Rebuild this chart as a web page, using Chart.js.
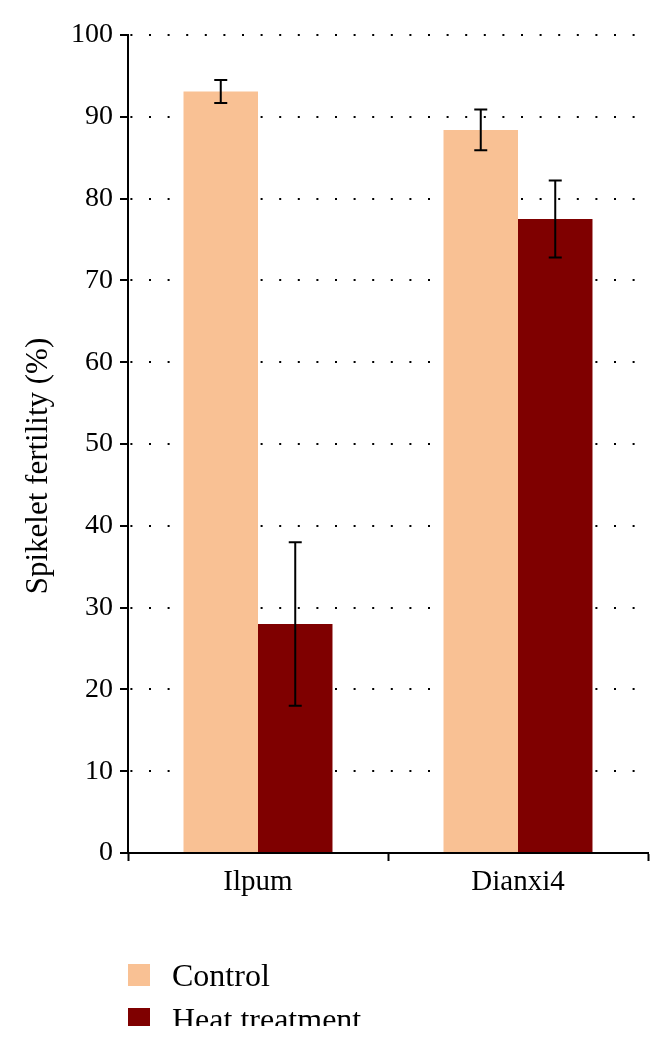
<!DOCTYPE html>
<html>
<head>
<meta charset="utf-8">
<script src="https://cdn.jsdelivr.net/npm/chart.js@4/dist/chart.umd.min.js"></script>
<style>
  body { margin: 0; background: #fff; }
  #wrap { position: relative; width: 671px; height: 1047px; }
  #legend {
    position: absolute; left: 128px; top: 953px; height: 73px; overflow: hidden;
    font-family: 'Liberation Serif', serif; font-size: 32px; color: #000;
  }
  .item { display: flex; align-items: center; height: 44px; }
  .box { width: 22px; height: 22px; margin-right: 22px; flex: none; }
</style>
</head>
<body>
<div id="wrap">
  <canvas id="chart" width="671" height="1047"></canvas>
  <div id="legend"></div>
</div>
<script>
const categories = ['Ilpum', 'Dianxi4'];
const seriesNames = ['Control', 'Heat treatment'];
const controlValues = [93.1, 88.4];
const controlErrors = [1.4, 2.5];
const heatValues = [28.0, 77.5];
const heatErrors = [10.0, 4.7];
const colors = ['#f9c194', '#7f0000'];
const yTicks = [0, 10, 20, 30, 40, 50, 60, 70, 80, 90, 100];
const yTitle = 'Spikelet fertility (%)';

const serif = 'Liberation Serif';
const errors = [controlErrors, heatErrors];

const errorBars = {
  id: 'errorBars',
  afterDatasetsDraw(chart) {
    const ctx = chart.ctx;
    const y = chart.scales.y;
    ctx.save();
    ctx.strokeStyle = '#000';
    ctx.lineWidth = 2;
    chart.data.datasets.forEach((ds, i) => {
      const meta = chart.getDatasetMeta(i);
      meta.data.forEach((bar, j) => {
        const v = ds.data[j], e = errors[i][j];
        const top = y.getPixelForValue(v + e);
        const bot = y.getPixelForValue(v - e);
        ctx.beginPath();
        ctx.moveTo(bar.x, top); ctx.lineTo(bar.x, bot);
        ctx.moveTo(bar.x - 6.5, top); ctx.lineTo(bar.x + 6.5, top);
        ctx.moveTo(bar.x - 6.5, bot); ctx.lineTo(bar.x + 6.5, bot);
        ctx.stroke();
      });
    });
    ctx.restore();
  }
};

// y title sits a bit below the plot centre in the original
const sideTitle = {
  id: 'sideTitle',
  afterDraw(chart) {
    const ctx = chart.ctx;
    const area = chart.chartArea;
    ctx.save();
    ctx.translate(39, (area.top + area.bottom) / 2 + 22);
    ctx.rotate(-Math.PI / 2);
    ctx.font = '31px ' + serif;
    ctx.fillStyle = '#000';
    ctx.textAlign = 'center';
    ctx.textBaseline = 'middle';
    ctx.fillText(yTitle, 0, 0);
    ctx.restore();
  }
};

new Chart(document.getElementById('chart'), {
  type: 'bar',
  data: {
    labels: categories,
    datasets: [
      { label: seriesNames[0], data: controlValues, backgroundColor: colors[0] },
      { label: seriesNames[1], data: heatValues, backgroundColor: colors[1] }
    ]
  },
  options: {
    responsive: false,
    animation: false,
    devicePixelRatio: 1,
    categoryPercentage: 0.573,
    barPercentage: 1.0,
    layout: { padding: { top: 35, right: 23, bottom: 0, left: 0 } },
    plugins: { legend: { display: false }, tooltip: { enabled: false } },
    scales: {
      x: {
        grid: { drawOnChartArea: false, tickLength: 8, tickColor: '#000', tickWidth: 2 },
        border: { color: '#000', width: 2 },
        ticks: { color: '#000', padding: 4, font: { family: serif, size: 29 } },
        afterFit: s => { s.height = 194; }
      },
      y: {
        min: 0, max: 100,
        afterBuildTicks: s => { s.ticks = yTicks.map(v => ({ value: v })); },
        grid: {
          color: c => (c.tick && c.tick.value === 0) ? 'rgba(0,0,0,0)' : '#000',
          lineWidth: 2, tickLength: 8, tickColor: '#000', tickWidth: 2
        },
        border: { color: '#000', width: 2, dash: [2, 16.6], dashOffset: 17.2 },
        ticks: { color: '#000', padding: 7, font: { family: serif, size: 28 } },
        title: { display: false },
        afterFit: s => { s.width = 128; }
      }
    }
  },
  plugins: [errorBars, sideTitle]
});

const legend = document.getElementById('legend');
seriesNames.forEach((name, i) => {
  const item = document.createElement('div');
  item.className = 'item';
  const box = document.createElement('span');
  box.className = 'box';
  box.style.background = colors[i];
  const label = document.createElement('span');
  label.textContent = name;
  item.appendChild(box);
  item.appendChild(label);
  legend.appendChild(item);
});
</script>
</body>
</html>
